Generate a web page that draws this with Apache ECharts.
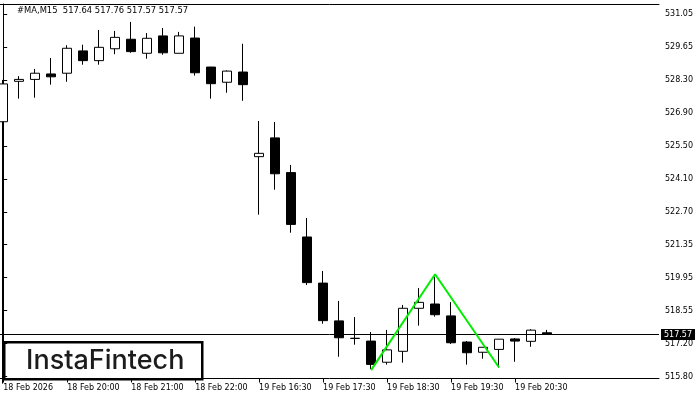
<!DOCTYPE html>
<html>
<head>
<meta charset="utf-8">
<script src="https://cdn.jsdelivr.net/npm/echarts@6/dist/echarts.min.js"></script>
<style>html,body{margin:0;padding:0;background:#fff}#c{width:700px;height:400px}</style>
</head>
<body>
<div id="c"></div>
<script>
// ---- data (M15 candles, index 0..34) ----
const opens  = [526.52,528.22,528.30,528.53,528.56,529.50,529.09,529.59,529.99,529.40,530.13,529.40,530.04,528.82,528.18,528.61,525.05,525.84,524.38,521.67,519.73,518.14,517.41,517.29,516.40,516.86,518.67,518.85,518.35,517.25,516.82,516.94,517.38,517.28,517.64];
const closes = [528.11,528.30,528.56,528.41,529.61,529.09,529.65,530.07,529.47,530.03,529.42,530.13,528.58,528.12,528.65,528.08,525.19,524.33,522.20,519.75,518.15,517.43,517.40,516.31,516.92,518.67,518.92,518.40,517.22,516.80,517.03,517.37,517.29,517.75,517.57];
const lows   = [515.50,527.49,527.53,528.08,528.20,528.92,528.92,529.36,529.42,529.17,529.34,529.40,528.46,527.49,527.74,527.40,522.61,523.66,521.85,519.65,518.02,516.63,517.14,516.12,516.30,516.38,517.94,518.32,517.17,516.30,516.55,516.17,516.42,517.05,517.57];
const highs  = [528.28,528.44,528.74,529.20,529.74,529.76,530.38,530.34,530.72,530.25,530.46,530.30,530.52,528.83,528.68,529.80,526.55,526.51,524.70,522.47,520.24,518.98,518.30,517.67,517.76,518.81,519.52,520.00,518.93,517.29,517.03,517.37,517.42,517.79,517.76];

// pattern (double bottom) points: [candle index, price]
const patternX = [23, 27, 31];
const patternY = [516.07, 520.10, 516.18];

const lastPrice = 517.57;
const titleText = '#MA,M15  517.64 517.76 517.57 517.57';

// axis ticks
const xTickIndex  = [0, 4, 8, 12, 16, 20, 24, 28, 32];
const xTickLabels = ['18 Feb 2026','18 Feb 20:00','18 Feb 21:00','18 Feb 22:00','19 Feb 16:30','19 Feb 17:30','19 Feb 18:30','19 Feb 19:30','19 Feb 20:30'];
const yTickLabels = ['515.80','517.20','518.55','519.95','521.35','522.70','524.10','525.50','526.90','528.30','529.65','531.05'];

// ---- build ----
const yBase = 515.80, yStep = (531.05 - 515.80) / 11;
const yTickValues = yTickLabels.map((_, i) => yBase + i * yStep);
const candleData = opens.map((o, i) => [i, o, closes[i], lows[i], highs[i]]);
const patternData = patternX.map((x, i) => [x, patternY[i]]);

const FONT = 'DejaVu Sans';
const chart = echarts.init(document.getElementById('c'), null, {renderer: 'canvas'});
chart.setOption({
  animation: false,
  backgroundColor: '#fff',
  title: {
    text: titleText, left: 17, top: 7, padding: 0,
    textStyle: {fontFamily: FONT, fontSize: 8.4, fontWeight: 'normal', color: '#000'}
  },
  grid: {left: 0, right: 41, top: 4, bottom: 21.5},
  xAxis: [{
    type: 'value', min: -0.2, max: 41, position: 'bottom',
    splitLine: {show: false},
    axisLine: {lineStyle: {color: '#000', width: 1}},
    axisTick: {show: true, customValues: xTickIndex, length: 4, lineStyle: {color: '#000'}},
    axisLabel: {
      customValues: xTickIndex, align: 'left', margin: 5,
      fontFamily: FONT, fontSize: 8, color: '#000',
      formatter: v => xTickLabels[xTickIndex.indexOf(Math.round(v))] || ''
    }
  }, {
    type: 'value', min: -0.2, max: 41, position: 'top',
    splitLine: {show: false}, axisTick: {show: false}, axisLabel: {show: false},
    axisLine: {lineStyle: {color: '#000', width: 1}}
  }],
  yAxis: {
    type: 'value', position: 'right', min: 515.716, max: 531.473, scale: true,
    splitLine: {show: false},
    axisLine: {show: true, lineStyle: {color: '#000', width: 1}},
    axisTick: {show: true, customValues: yTickValues, length: 4, lineStyle: {color: '#000'}},
    axisLabel: {
      customValues: yTickValues, margin: 6,
      fontFamily: FONT, fontSize: 8, color: '#000',
      formatter: v => yTickLabels[Math.round((v - yBase) / yStep)] || ''
    }
  },
  series: [{
    type: 'candlestick',
    data: candleData,
    encode: {x: 0, y: [1, 2, 3, 4]},
    barWidth: 10,
    clip: true,
    itemStyle: {
      color: '#fff', color0: '#000',
      borderColor: '#000', borderColor0: '#000', borderColorDoji: '#000',
      borderWidth: 1
    },
    markLine: {
      silent: true, symbol: 'none', animation: false,
      lineStyle: {color: '#000', width: 1, type: 'solid'},
      label: {
        position: 'end', distance: 2, formatter: lastPrice.toFixed(2),
        backgroundColor: '#000', color: '#fff', padding: [2, 3, 1, 3],
        fontFamily: FONT, fontSize: 8
      },
      data: [{yAxis: lastPrice}]
    }
  }, {
    type: 'line',
    data: patternData,
    symbol: 'none',
    lineStyle: {color: '#00ee00', width: 2},
    z: 5
  }],
  graphic: [{
    type: 'group', left: 3, top: 341, z: 100,
    children: [{
      type: 'rect', shape: {x: 0, y: 0, width: 198, height: 37},
      style: {fill: '#fff', stroke: '#000', lineWidth: 2.5}
    }, {
      type: 'text', x: 101, y: 19,
      style: {text: 'InstaFintech', x: 0, y: 0, align: 'center', verticalAlign: 'middle',
        font: '500 27px Inter', fill: '#1c1c1c'}
    }]
  }]
});
</script>
</body>
</html>
